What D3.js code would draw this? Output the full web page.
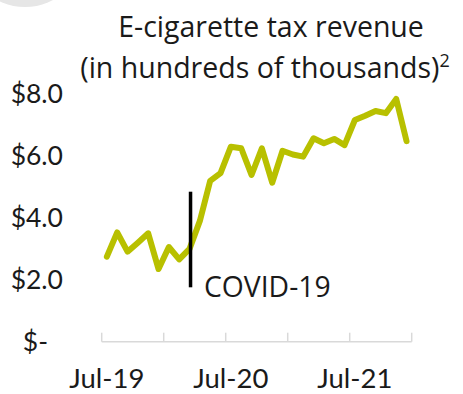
<!DOCTYPE html>
<html>
<head>
<meta charset="utf-8">
<script src="https://cdn.jsdelivr.net/npm/d3@7"></script>
<style>
  html, body { margin: 0; padding: 0; background: #fff; }
  svg { display: block; }
</style>
</head>
<body>
<svg id="chart" width="463" height="394"></svg>
<script>
// ---- data ----
const months = ["Jul-19","Aug-19","Sep-19","Oct-19","Nov-19","Dec-19",
  "Jan-20","Feb-20","Mar-20","Apr-20","May-20","Jun-20",
  "Jul-20","Aug-20","Sep-20","Oct-20","Nov-20","Dec-20",
  "Jan-21","Feb-21","Mar-21","Apr-21","May-21","Jun-21",
  "Jul-21","Aug-21","Sep-21","Oct-21","Nov-21","Dec-21"];
const revenue = [2.74, 3.52, 2.90, 3.19, 3.49, 2.34,
  3.05, 2.65, 2.99, 3.89, 5.18, 5.43,
  6.28, 6.23, 5.37, 6.23, 5.12, 6.15,
  6.03, 5.96, 6.55, 6.39, 6.53, 6.33,
  7.14, 7.28, 7.43, 7.36, 7.82, 6.46];
const yTicks = [0, 2, 4, 6, 8];
const xLabels = ["Jul-19", "Jul-20", "Jul-21"];
const tickBoundaries = ["Jul-19","Jan-20","Jul-20","Jan-21","Jul-21"];
const covidMonth = "Mar-20";
const titleLines = ["E-cigarette tax revenue", "(in hundreds of thousands)"];
const titleSup = "2";
const covidLabel = "COVID-19";

// ---- layout ----
const svg = d3.select("#chart");
const x = d3.scaleBand().domain(months).range([101.7, 411.7]).padding(0);
const y = d3.scaleLinear().domain([0, 8]).range([341.7, 93.3]);
const lineColor = "#b8c000";

// decorative grey circle in corner
svg.append("circle").attr("cx", 25).attr("cy", -52.5).attr("r", 59.5).attr("fill", "#e6e6e6");

// title
const title = svg.append("text")
  .attr("font-family", "'Open Sans', 'Liberation Sans', sans-serif")
  .attr("font-size", 28.5).attr("fill", "#1a1a1a").attr("text-anchor", "middle");
title.append("tspan").attr("x", 271).attr("y", 37).text(titleLines[0]);
title.append("tspan").attr("x", 265).attr("y", 78).text(titleLines[1]);
title.append("tspan").attr("font-size", 18).attr("dy", -11).text(titleSup);

// x axis (ticks between categories, every 6 months)
const xAxisG = svg.append("g");
const xBase = y(0);
xAxisG.append("line")
  .attr("x1", x.range()[0]).attr("x2", x.range()[1])
  .attr("y1", xBase).attr("y2", xBase)
  .attr("stroke", "#d9d9d9").attr("stroke-width", 1.5);
const tickXs = tickBoundaries.map(m => x(m)).concat([x.range()[1]]);
xAxisG.selectAll("line.tick").data(tickXs).join("line")
  .attr("class", "tick")
  .attr("x1", d => d).attr("x2", d => d)
  .attr("y1", xBase).attr("y2", xBase - 9)
  .attr("stroke", "#d9d9d9").attr("stroke-width", 1.5);
xAxisG.selectAll("text").data(xLabels).join("text")
  .attr("x", d => x(d) + x.bandwidth() / 2)
  .attr("y", 388)
  .attr("text-anchor", "middle")
  .attr("font-family", "Lato, 'Open Sans', sans-serif")
  .attr("font-size", 27.5).attr("fill", "#1a1a1a")
  .text(d => d);

// y axis labels
const fmt = v => v === 0 ? "$-" : "$" + d3.format(".1f")(v);
svg.append("g").selectAll("text").data(yTicks).join("text")
  .attr("x", d => d === 0 ? 48 : 63)
  .attr("y", d => y(d))
  .attr("dy", "0.36em")
  .attr("text-anchor", "end")
  .attr("font-family", "Lato, 'Open Sans', sans-serif")
  .attr("font-size", 26.5).attr("fill", "#1a1a1a")
  .text(fmt);

// series line
const line = d3.line()
  .x((d, i) => x(months[i]) + x.bandwidth() / 2)
  .y(d => y(d));
svg.append("path").datum(revenue)
  .attr("d", line)
  .attr("fill", "none")
  .attr("stroke", lineColor)
  .attr("stroke-width", 6)
  .attr("stroke-linejoin", "round")
  .attr("stroke-linecap", "round");

// COVID marker
const cx = x(covidMonth) + x.bandwidth() / 2 + 1;
svg.append("line")
  .attr("x1", cx).attr("x2", cx)
  .attr("y1", 191.7).attr("y2", 287.3)
  .attr("stroke", "#000").attr("stroke-width", 3.5);
svg.append("text")
  .attr("x", 204).attr("y", 297)
  .attr("font-family", "'Open Sans', 'Liberation Sans', sans-serif")
  .attr("font-size", 28.3).attr("fill", "#1a1a1a")
  .text(covidLabel);
</script>
</body>
</html>
